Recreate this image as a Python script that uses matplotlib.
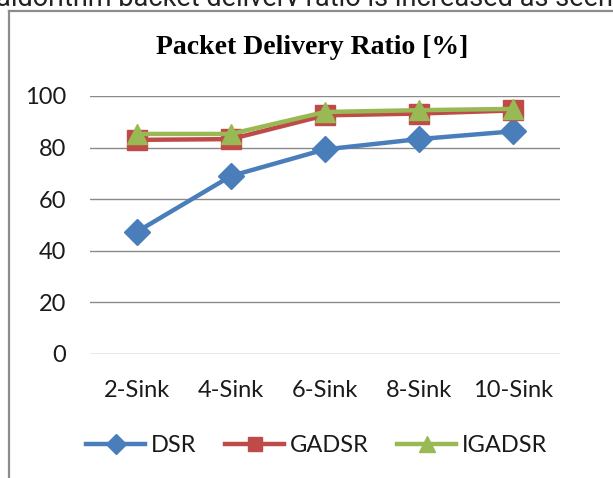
import matplotlib
matplotlib.use("Agg")
import matplotlib.pyplot as plt
from matplotlib.lines import Line2D
from matplotlib.patches import Rectangle

categories = ["2-Sink", "4-Sink", "6-Sink", "8-Sink", "10-Sink"]
dsr = [47.4, 69.0, 79.3, 83.3, 86.3]
gadsr = [83.0, 83.3, 92.5, 93.2, 94.4]
igadsr = [85.3, 85.3, 93.8, 94.5, 95.0]
yticks = [0, 20, 40, 60, 80, 100]

W, H = 613, 478
fig = plt.figure(figsize=(W / 100, H / 100), dpi=100)
fig.patch.set_facecolor("white")

# clipped caption text from the page above the chart
fig.text(-4 / W, 1 - 6 / H, "algorithm packet delivery ratio is increased as seen in",
         fontsize=19.5, family="Roboto", color="#222222", va="baseline", ha="left", zorder=1)
fig.patches.append(Rectangle((0, 0), 1, 1 - 6 / H, transform=fig.transFigure,
                             facecolor="white", edgecolor="none", zorder=2))
# chart frame
fig.lines.append(Line2D([9 / W, 9 / W], [0, 1 - 11 / H], transform=fig.transFigure,
                        color="#8c8c8c", lw=1.6, zorder=3))
fig.lines.append(Line2D([9 / W, 1.0], [1 - 11 / H, 1 - 11 / H], transform=fig.transFigure,
                        color="#8c8c8c", lw=1.6, zorder=3))

ax = fig.add_axes([90 / W, 1 - 354 / H, (560 - 90) / W, (354 - 96) / H])
ax.set_zorder(4)
ax.patch.set_alpha(0)
x = list(range(len(categories)))

ax.plot(x, dsr, color="#4A7EBB", lw=3.2, marker="D", ms=13, mec="#4A7EBB", label="DSR", zorder=3)
ax.plot(x, gadsr, color="#BE4B48", lw=3.2, marker="s", ms=14, mec="#BE4B48", label="GADSR", zorder=4)
ax.plot(x, igadsr, color="#98B954", lw=3.2, marker="^", ms=15, mec="#98B954", label="IGADSR", zorder=5)

ax.set_xlim(-0.5, len(categories) - 0.5)
ax.set_ylim(0, 100)
ax.set_yticks(yticks)
ax.set_xticks(x)
ax.set_xticklabels(categories)
for s in ax.spines.values():
    s.set_visible(False)
ax.grid(axis="y", color="#8a8a8a", lw=1.0)
ax.set_axisbelow(True)
ax.tick_params(axis="both", length=0, labelsize=17, labelcolor="#1a1a1a")
ax.tick_params(axis="y", pad=17)
ax.tick_params(axis="x", pad=19)
for lbl in ax.get_xticklabels() + ax.get_yticklabels():
    lbl.set_family("Lato")

fig.text(312.5 / W, 1 - 47 / H, "Packet Delivery Ratio [%]", fontsize=20, family="Liberation Serif",
         weight="bold", ha="center", va="center", zorder=5)

leg = fig.legend(loc="center", bbox_to_anchor=(317 / W, 1 - 446 / H), ncol=3, frameon=False,
                 prop={"family": "Lato", "size": 17}, handlelength=2.5, handletextpad=0.25,
                 columnspacing=1.2, markerscale=0.75)
for t in leg.get_texts():
    t.set_color("#1a1a1a")

fig.savefig("out.png", dpi=100)
